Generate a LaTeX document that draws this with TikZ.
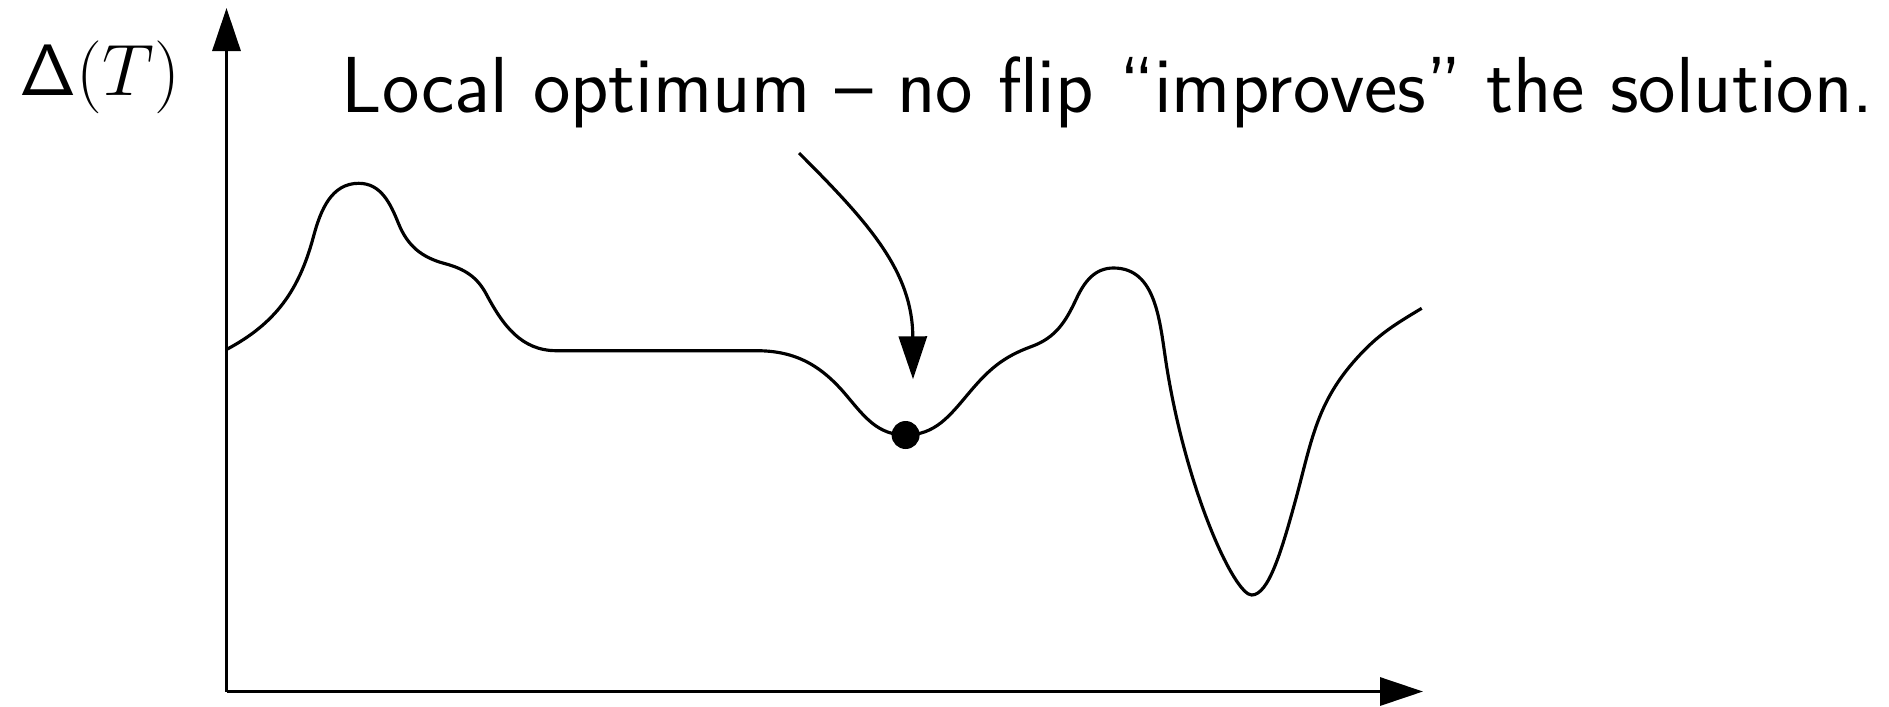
\documentclass[tikz,border=0pt]{standalone}
\usepackage{amsmath}
\usetikzlibrary{arrows.meta}
\tikzset{
  axis/.style={-{Triangle[length=4.3mm,width=2.8mm]},line width=0.9pt},
  landscape/.style={line width=0.9pt},
  pointer/.style={-{Triangle[length=4.3mm,width=2.8mm]},line width=0.9pt},
  optdot/.style={circle,fill,inner sep=0pt,minimum size=2.8mm},
  lbl/.style={font=\fontsize{22.6}{27}\selectfont\sffamily,inner sep=0pt},
}
\begin{document}
\begin{tikzpicture}
\useasboundingbox (-2.265,-0.145) rectangle (16.625,6.915);
\coordinate (O) at (0,0);
\coordinate (ytop) at (0,6.835);
\coordinate (xend) at (11.965,0);
\draw[axis] (O) -- (ytop);
\draw[axis] (O) -- (xend);
\node[lbl, font=\fontsize{21.5}{26}\selectfont, anchor=base] (ylab) at (-1.265,5.965) {$\mathsf{\Delta}(T)$};
\node[lbl, anchor=base west] (note) at (1.145,5.795) {Local optimum – no flip “improves” the solution.};
% energy landscape
\draw[landscape] (0,3.42) to[out=28,in=255] (0.87,4.55)
  to[out=75,in=180] (1.322,5.082)
  to[out=0,in=112] (1.72,4.68)
  to[out=-68,in=165] (2.18,4.28)
  to[out=-15,in=118] (2.6,3.97)
  to[out=-62,in=180] (3.3,3.408)
  -- (5.3,3.408)
  to[out=0,in=130] (6.2,2.96)
  to[out=-50,in=180] (6.791,2.565)
  to[out=0,in=230] (7.42,2.98)
  to[out=50,in=200] (8.05,3.45)
  to[out=20,in=245] (8.5,3.93)
  to[out=65,in=180] (8.87,4.235)
  to[out=0,in=99] (9.4,3.26)
  .. controls (9.6,2.0) and (10.08,0.965) .. (10.252,0.965)
  .. controls (10.42,0.965) and (10.55,1.4) .. (10.7,1.95)
  to[out=75,in=228] (11.3,3.33)
  to[out=48,in=211] (11.952,3.832);
\node[optdot] (lopt) at (6.791,2.565) {};
\coordinate (from) at (5.725,5.385);
\draw[pointer] (from) .. controls (6.425,4.685) and (6.86,4.2) .. ([xshift=0.74mm,yshift=4.1mm]lopt.north);
\end{tikzpicture}
\end{document}
